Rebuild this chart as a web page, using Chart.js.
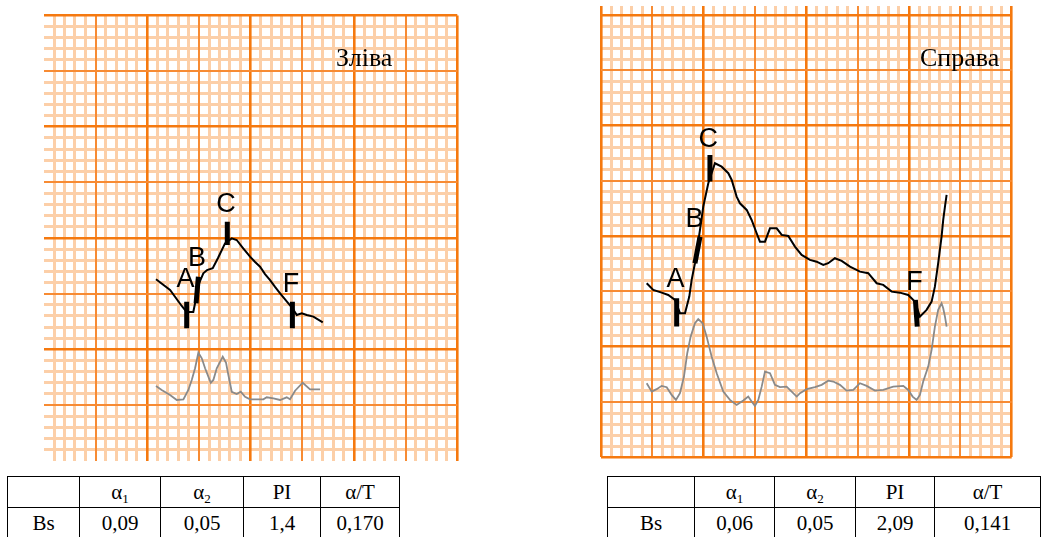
<!DOCTYPE html>
<html><head><meta charset="utf-8">
<script src="https://cdn.jsdelivr.net/npm/chart.js@4.4.0/dist/chart.umd.min.js"></script>
<style>
html,body{margin:0;padding:0;background:#fff;width:1042px;height:537px;overflow:hidden;position:relative;}
canvas{position:absolute;}
.side{position:absolute;font-family:"Liberation Serif","Times New Roman",serif;font-size:26px;line-height:26px;color:#000;white-space:nowrap;}
table{position:absolute;border-collapse:collapse;font-family:"Liberation Serif","Times New Roman",serif;font-size:21px;table-layout:fixed;color:#000;}
td{border:1.8px solid #000;text-align:center;padding:0;height:30px;line-height:21px;}
sub{font-size:13px;vertical-align:-4px;line-height:0;}
</style></head><body>
<canvas id="cL" width="434" height="465" style="left:34px;top:5px"></canvas>
<canvas id="cR" width="431" height="468" style="left:591px;top:0px"></canvas>
<div class="side" style="left:336px;top:45px">Зліва</div>
<div class="side" style="left:920px;top:45px">Справа</div>
<table id="tL" style="left:7px;top:476px;width:392px"></table>
<table id="tR" style="left:607px;top:476px;width:433px"></table>
<script>
// ---- data (grid units: 1 unit = 1 small cell) ----
const tableHeaders = ['', 'α<sub>1</sub>', 'α<sub>2</sub>', 'PI', 'α/T'];
const rowLabel = 'Bs';
const leftValues = ['0,09', '0,05', '1,4', '0,170'];
const rightValues = ['0,06', '0,05', '2,09', '0,141'];
const leftColWidths = [72, 81, 83, 77, 79];
const rightColWidths = [87, 80, 81, 79, 106];

const leftRheo = [[10.84,16.29],[12.20,15.33],[13.33,13.89],[13.81,13.35],[14.45,13.35],[14.62,14.13],[14.94,15.78],[15.42,16.83],[15.78,17.12],[16.33,17.28],[16.84,18.20],[17.52,19.52],[18.17,19.97],[18.65,19.82],[19.26,19.10],[19.94,18.32],[20.43,17.84],[20.91,17.42],[21.39,16.76],[21.88,16.22],[22.36,15.60],[22.85,15.03],[23.65,14.13],[24.04,13.71],[24.46,13.08],[24.95,13.23],[25.43,13.08],[26.07,12.93],[26.98,12.42]];
const leftDiff = [[10.84,6.70],[11.39,6.34],[12.20,5.89],[12.85,5.44],[13.49,5.50],[13.97,6.34],[14.30,7.24],[14.62,8.29],[14.94,9.69],[15.27,9.19],[15.59,8.29],[16.14,6.99],[16.39,7.24],[16.72,8.29],[17.30,9.33],[17.62,8.79],[17.84,7.69],[18.17,6.18],[18.65,5.98],[19.04,6.18],[19.46,5.73],[19.94,5.50],[21.23,5.50],[21.56,5.68],[22.20,5.59],[22.85,5.44],[23.49,5.68],[23.81,5.50],[24.30,6.27],[25.04,6.99],[25.75,6.40],[26.72,6.40]];
const leftMarkA = [[13.81,14.27],[13.81,11.88]];
const leftMarkB = [[14.94,16.52],[14.72,14.13]];
const leftMarkC = [[17.74,21.46],[17.74,19.37]];
const leftMarkF = [[24.04,14.27],[24.04,11.88]];
const leftLabels = [['A',13.70,15.60],['B',14.81,17.48],['C',17.62,22.38],['F',23.91,15.19]];

const rightRheo = [[4.45,15.74],[5.09,15.14],[5.91,14.89],[6.55,14.68],[7.21,14.23],[7.69,13.03],[8.18,13.03],[8.60,14.53],[8.83,16.04],[9.15,17.55],[9.64,20.56],[9.96,22.67],[10.45,24.78],[11.10,26.59],[11.75,26.28],[12.40,25.69],[12.73,25.08],[13.21,23.57],[13.53,22.97],[14.19,22.37],[14.67,21.46],[15.16,20.26],[15.48,19.50],[15.97,19.50],[16.46,20.71],[17.11,20.71],[17.60,20.11],[18.24,20.02],[18.89,19.05],[19.54,18.30],[20.35,17.85],[21.00,17.69],[21.65,17.40],[22.13,17.55],[22.78,18.00],[23.44,17.76],[24.25,17.24],[25.22,16.79],[26.03,16.65],[26.85,15.74],[27.49,15.59],[28.31,14.98],[29.11,14.89],[29.92,14.68],[30.57,14.08],[31.06,12.72],[31.71,13.33],[32.20,14.08],[32.52,15.43],[32.84,17.55],[33.17,19.95],[33.33,21.46],[33.50,22.67],[33.66,23.73]];
const rightDiff = [[4.45,6.70],[4.94,5.94],[5.42,6.16],[5.91,6.46],[6.40,6.34],[6.88,5.64],[7.30,5.19],[7.69,5.80],[8.08,7.30],[8.40,9.41],[8.73,10.91],[9.15,12.12],[9.47,12.49],[9.90,12.12],[10.29,10.91],[10.78,9.10],[11.27,7.60],[11.91,5.94],[12.56,5.19],[13.21,4.74],[13.86,5.13],[14.34,5.49],[14.67,5.04],[14.99,4.65],[15.32,5.19],[15.65,6.39],[15.97,7.75],[16.46,7.60],[16.94,6.55],[17.43,6.34],[18.08,6.39],[18.57,5.94],[19.06,5.49],[19.38,5.80],[20.03,6.16],[20.84,6.34],[21.49,6.55],[22.13,6.93],[22.62,6.85],[23.27,6.55],[23.92,6.03],[24.57,6.09],[25.22,6.70],[25.87,6.46],[26.68,6.03],[27.49,6.09],[28.46,6.39],[29.44,6.46],[29.92,6.09],[30.35,5.49],[30.74,5.19],[31.06,5.64],[31.38,6.85],[31.87,8.20],[32.20,9.71],[32.52,11.82],[32.84,13.33],[33.17,13.93],[33.33,13.48],[33.50,12.72],[33.66,11.82]];
const rightMarkA = [[7.37,14.38],[7.37,11.82]];
const rightMarkB = [[9.64,19.95],[9.15,17.55]];
const rightMarkC = [[10.61,27.34],[10.61,24.93]];
const rightMarkF = [[30.62,14.23],[30.80,11.82]];
const rightLabels = [['A',7.25,15.43],['B',9.10,20.86],['C',10.45,28.09],['F',30.53,15.14]];

// ---- tables ----
function buildTable(id, values, widths) {
  const t = document.getElementById(id);
  let h = '<colgroup>' + widths.map(w => '<col style="width:' + w + 'px">').join('') + '</colgroup>';
  h += '<tr>' + tableHeaders.map(c => '<td>' + c + '</td>').join('') + '</tr>';
  h += '<tr><td>' + rowLabel + '</td>' + values.map(v => '<td>' + v + '</td>').join('') + '</tr>';
  t.innerHTML = h;
}
buildTable('tL', leftValues, leftColWidths);
buildTable('tR', rightValues, rightColWidths);

// ---- charts ----
const MAJ = '#f5790f', MED = '#f78b33', MIN = '#fccfa8', NONE = 'rgba(0,0,0,0)';
const pts = a => a.map(p => ({x: p[0], y: p[1]}));
const withGaps = arrs => { const out = []; arrs.forEach((a, i) => { if (i) out.push({x: null, y: null}); out.push(...pts(a)); }); return out; };

const labelPlugin = {
  id: 'markLabels',
  afterDatasetsDraw(chart, args, opts) {
    const c = chart.ctx, xs = chart.scales.x, ys = chart.scales.y;
    c.save();
    c.fillStyle = '#000';
    c.font = '27px "Liberation Sans", Arial, sans-serif';
    c.textAlign = 'center';
    c.textBaseline = 'alphabetic';
    opts.labels.forEach(l => c.fillText(l[0], xs.getPixelForValue(l[1]), ys.getPixelForValue(l[2])));
    c.restore();
  }
};

function makeChart(id, rheo, diff, marks, labels, ymax, skipLeft, skipBottom, padding) {
  const mainGrid = (skip) => ({
    drawTicks: false, z: -1,
    color: ctx => (skip && ctx.tick.value === 0) ? NONE : (ctx.tick.value % 10 === 0 ? MAJ : MED),
    lineWidth: ctx => ctx.tick.value % 10 === 0 ? 2.6 : 2
  });
  const minorGrid = () => ({
    drawTicks: false, z: -2,
    color: ctx => (ctx.tick.value % 5 === 0) ? NONE : MIN,
    lineWidth: 3
  });
  const sc = (axis, pos, max, step, grid) => ({
    type: 'linear', axis: axis, position: pos, min: 0, max: max, display: true,
    ticks: {display: false, stepSize: step, includeBounds: false},
    grid: grid, border: {display: false}
  });
  return new Chart(document.getElementById(id), {
    type: 'line',
    data: {datasets: [
      {data: pts(diff), borderColor: '#8a8a8a', borderWidth: 1.8, pointRadius: 0, tension: 0, xAxisID: 'x', yAxisID: 'y'},
      {data: pts(rheo), borderColor: '#000', borderWidth: 2, pointRadius: 0, tension: 0, xAxisID: 'x', yAxisID: 'y'},
      {data: withGaps(marks), borderColor: '#000', borderWidth: 5, pointRadius: 0, spanGaps: false, borderCapStyle: 'butt', xAxisID: 'x', yAxisID: 'y'}
    ]},
    options: {
      responsive: false, animation: false, devicePixelRatio: 1,
      layout: {padding: padding},
      plugins: {legend: {display: false}, tooltip: {enabled: false}, markLabels: {labels: labels}},
      scales: {
        xMinor: sc('x', 'bottom', 40, 1, minorGrid()),
        yMinor: sc('y', 'left', ymax, 1, minorGrid()),
        x: sc('x', 'bottom', 40, 5, mainGrid(skipLeft)),
        y: sc('y', 'left', ymax, 5, mainGrid(skipBottom))
      }
    },
    plugins: [labelPlugin]
  });
}

makeChart('cL', leftRheo, leftDiff, [leftMarkA, leftMarkB, leftMarkC, leftMarkF], leftLabels, 40, true, true,
  {left: 10, right: 10.7, top: 10.5, bottom: 9.5});
makeChart('cR', rightRheo, rightDiff, [rightMarkA, rightMarkB, rightMarkC, rightMarkF], rightLabels, 40.81, false, false,
  {left: 10, right: 10.3, top: 6, bottom: 10.7});
</script>
</body></html>
